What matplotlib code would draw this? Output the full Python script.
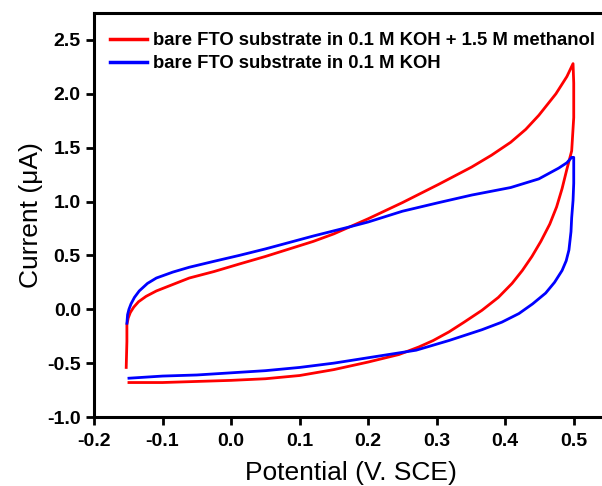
import matplotlib
matplotlib.use("Agg")
import matplotlib.pyplot as plt

# CV scans: potential (V vs SCE), current (uA), in scan order
red_v = [-0.153, -0.152, -0.152, -0.150, -0.147, -0.142, -0.135, -0.124, -0.109, -0.085,
         -0.061, -0.025, 0.012, 0.050, 0.085, 0.120, 0.150, 0.200, 0.250, 0.303,
         0.351, 0.380, 0.408, 0.430, 0.449, 0.474, 0.490, 0.499,
         0.500, 0.500, 0.500, 0.497, 0.490, 0.483, 0.475, 0.465, 0.452, 0.439,
         0.425, 0.410, 0.390, 0.366, 0.340, 0.318, 0.295, 0.274, 0.245, 0.200,
         0.150, 0.100, 0.050, 0.000, -0.050, -0.100, -0.149]
red_i = [-0.54, -0.30, -0.14, -0.08, -0.03, 0.02, 0.07, 0.12, 0.17, 0.23,
         0.29, 0.35, 0.42, 0.49, 0.56, 0.63, 0.70, 0.84, 0.99, 1.16,
         1.32, 1.43, 1.55, 1.67, 1.80, 2.00, 2.16, 2.28,
         2.10, 1.95, 1.78, 1.47, 1.30, 1.12, 0.95, 0.79, 0.63, 0.49,
         0.36, 0.24, 0.11, -0.01, -0.12, -0.21, -0.29, -0.35, -0.42, -0.49,
         -0.56, -0.615, -0.645, -0.66, -0.67, -0.68, -0.68]

blue_v = [-0.152, -0.151, -0.149, -0.146, -0.141, -0.134, -0.122, -0.109, -0.085, -0.061,
          -0.025, 0.012, 0.050, 0.085, 0.120, 0.170, 0.200, 0.250, 0.303, 0.351,
          0.408, 0.449, 0.478, 0.490, 0.497, 0.500,
          0.500, 0.500, 0.499, 0.497, 0.496, 0.493, 0.489, 0.483, 0.472, 0.459,
          0.440, 0.420, 0.395, 0.366, 0.318, 0.270, 0.200, 0.150, 0.100, 0.050,
          0.000, -0.050, -0.100, -0.149]
blue_i = [-0.13, -0.05, 0.00, 0.05, 0.11, 0.17, 0.24, 0.29, 0.345, 0.39,
          0.445, 0.50, 0.56, 0.62, 0.68, 0.76, 0.81, 0.91, 0.99, 1.06,
          1.13, 1.21, 1.31, 1.36, 1.41, 1.41,
          1.30, 1.17, 1.01, 0.85, 0.72, 0.55, 0.45, 0.36, 0.25, 0.15,
          0.05, -0.04, -0.12, -0.19, -0.29, -0.38, -0.45, -0.50, -0.54, -0.57,
          -0.59, -0.61, -0.62, -0.64]

labels = ['bare FTO substrate in 0.1 M KOH + 1.5 M methanol',
          'bare FTO substrate in 0.1 M KOH']
x_ticks = [-0.2, -0.1, 0.0, 0.1, 0.2, 0.3, 0.4, 0.5]
y_ticks = [-1.0, -0.5, 0.0, 0.5, 1.0, 1.5, 2.0, 2.5]

plt.rcParams['font.family'] = ['Liberation Sans', 'DejaVu Sans']

fig = plt.figure(figsize=(6.02, 4.86), dpi=100)
ax = fig.add_axes([94/602, 69/486, 514/602, 404/486])

ax.plot(red_v, red_i, color='#ff0000', lw=2.0, label=labels[0])
ax.plot(blue_v, blue_i, color='#0000ff', lw=2.0, label=labels[1])

ax.set_xlim(-0.2, 0.55)
ax.set_ylim(-1.0, 2.75)
ax.set_xticks(x_ticks)
ax.set_yticks(y_ticks)
ax.set_xticklabels(['{:.1f}'.format(v) for v in x_ticks])
ax.set_yticklabels(['{:.1f}'.format(v) for v in y_ticks])
for lab in ax.get_xticklabels() + ax.get_yticklabels():
    lab.set_fontweight('bold')
    lab.set_fontsize(14)

ax.tick_params(direction='out', length=5.5, width=2, top=False, right=False)
ax.tick_params(axis='x', pad=6)
ax.tick_params(axis='y', pad=4)
for sp in ax.spines.values():
    sp.set_linewidth(2.2)

ax.set_xlabel('Potential (V. SCE)', fontsize=19, labelpad=8)
ax.set_ylabel('Current (\u03bcA)', fontsize=19, labelpad=3)

leg = ax.legend(loc='upper left', bbox_to_anchor=(0.031, 0.952), frameon=False,
                borderpad=0, borderaxespad=0, handlelength=2.0, handletextpad=0.35,
                labelspacing=0.32, prop={'weight': 'bold', 'size': 13.3})
for ln in leg.get_lines():
    ln.set_linewidth(2.5)

fig.savefig('out.png', dpi=100)
